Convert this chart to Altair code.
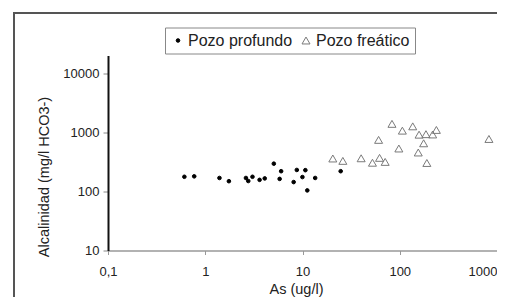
import altair as alt
import pandas as pd

# Pozo profundo (filled dots)
prof_as = [0.61, 0.77, 1.40, 1.75, 2.62, 2.77, 3.06, 3.62, 4.09, 5.07,
           5.82, 6.03, 8.11, 8.74, 9.98, 10.7, 11.2, 13.5, 24.7]
prof_alc = [177, 180, 169, 149, 169, 150, 177, 157, 166, 295,
            163, 220, 144, 231, 175, 229, 104, 169, 220]

# Pozo freatico (open triangles)
frea_as = [20.5, 26.0, 40.1, 52.4, 60.6, 62.0, 70.8, 83.2, 97.9, 106.4,
           136, 155, 158, 176, 186, 190, 218, 238, 826]
frea_alc = [361, 329, 364, 306, 746, 370, 316, 1393, 533, 1069,
            1264, 456, 914, 653, 932, 303, 921, 1099, 773]

groups = ["Pozo profundo", "Pozo freático"]
x_ticks = [0.1, 1, 10, 100, 1000]
y_ticks = [10, 100, 1000, 10000]

rows = []
for a, b in zip(prof_as, prof_alc):
    rows.append({"As": a, "Alc": b, "grupo": groups[0]})
for a, b in zip(frea_as, frea_alc):
    rows.append({"As": a, "Alc": b, "grupo": groups[1]})
df = pd.DataFrame(rows)

W, H = 389, 195
FONT = "Liberation Sans"

one = pd.DataFrame({"k": [0]})
frame_top = alt.Chart(one).mark_rule(stroke="#555555", strokeWidth=2).encode(
    x=alt.value(-94), x2=alt.value(W), y=alt.value(-42.5)
)
frame_left = alt.Chart(one).mark_rule(stroke="#555555", strokeWidth=2).encode(
    x=alt.value(-94), y=alt.value(-43.5), y2=alt.value(H + 48)
)

leg = alt.Legend(title=None)
points = alt.Chart(df).mark_point(strokeWidth=1, opacity=1).encode(
    x=alt.X("As:Q",
            scale=alt.Scale(type="log", domain=[0.1, 1000]),
            axis=alt.Axis(values=x_ticks, title="As (ug/l)",
                          labelExpr="datum.value < 1 ? '0,1' : format(datum.value, 'd')",
                          labelAlign=alt.expr("datum.value >= 1000 ? 'right' : 'center'"),
                          domainColor="#999999", domainWidth=1.5,
                          tickColor="#999999", tickSize=4, labelPadding=11,
                          titleX=188, titleY=39, titleBaseline="middle")),
    y=alt.Y("Alc:Q",
            scale=alt.Scale(type="log", domain=[10, 20000]),
            axis=alt.Axis(values=y_ticks, title="Alcalinidad (mg/l HCO3-)",
                          format="d",
                          domainColor="#111111", domainWidth=2,
                          tickColor="#888888", tickSize=5, labelPadding=4,
                          titleAngle=270, titleX=-64, titleY=121,
                          titleBaseline="middle", titleAlign="center")),
    shape=alt.Shape("grupo:N", scale=alt.Scale(domain=groups, range=["circle", "triangle-up"]), legend=leg),
    fill=alt.Fill("grupo:N", scale=alt.Scale(domain=groups, range=["#000000", "transparent"]), legend=leg),
    stroke=alt.Stroke("grupo:N", scale=alt.Scale(domain=groups, range=["#000000", "#7a7a7a"]), legend=leg),
    size=alt.Size("grupo:N", scale=alt.Scale(domain=groups, range=[13, 64]), legend=leg),
)

chart = alt.layer(frame_top, frame_left, points).properties(
    width=W, height=H,
    autosize=alt.AutoSizeParams(type="none"),
    padding={"left": 100, "top": 47.5, "right": 0, "bottom": 46.5},
    background="white",
).configure(font=FONT).configure_view(stroke=None).configure_axis(
    grid=False, labelFont=FONT, labelFontSize=13, labelColor="#222222",
    titleFont=FONT, titleFontSize=14.5, titleFontWeight="normal", titleColor="#222222"
).configure_legend(
    orient="none", legendX=57, legendY=-28, direction="horizontal",
    strokeColor="#888888", strokeWidth=1, padding=5,
    labelFont=FONT, labelFontSize=16, labelColor="#222222",
    labelOffset=2, columnPadding=5, symbolStrokeWidth=1
)

chart.save("out.html", embed_options={"renderer": "svg", "actions": False})
